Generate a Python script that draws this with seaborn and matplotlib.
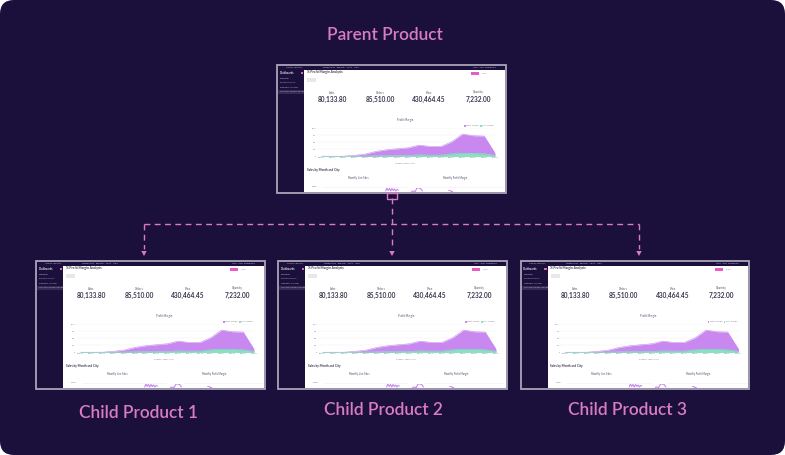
import pandas as pd
import matplotlib
matplotlib.use("Agg")
import matplotlib.pyplot as plt
from matplotlib.patches import Rectangle, FancyBboxPatch, Polygon
import seaborn as sns

sns.set_theme(style="white")
plt.rcParams['font.family'] = ['Lato', 'DejaVu Sans']

# ===== data =====
months = list(range(17))
profit_total = [10, 10, 10, 40, 85, 180, 240, 275, 310, 405, 357, 357, 523, 797, 738, 726, 119]
profit_part = [5, 5, 5, 10, 15, 25, 30, 30, 35, 60, 50, 50, 95, 115, 105, 95, 40]
y_ticks = [0, 250, 500, 750, 1000]

spark_a = [3, 9, 4, 8, 3, 8, 4, 7, 3, 6, 5]
spark_b = [2, 3, 2, 9, 9, 8, 3]
spark_c = [8, 7, 4, 3]

kpi_labels = ["Sales", "Orders", "Price", "Quantity"]
kpi_values = ["80,133.80", "85,510.00", "430,464.45", "7,232.00"]
nav_items = ["Overview", "Profit Summary", "Category Analysis", "% Profit Margin Analysis"]

BG = "#1b0f3b"
PINK = "#d97cc6"
PURPLE = "#c888f0"
GREEN = "#84e3c0"
INK = "#3b3650"
W, H = 785, 455
PW, PH = 228.5, 128.5

fig = plt.figure(figsize=(W / 100, H / 100), dpi=100, facecolor="white")
main = fig.add_axes([0, 0, 1, 1])
main.set_xlim(0, W)
main.set_ylim(H, 0)
main.axis("off")
main.add_patch(FancyBboxPatch((0, 0), W, H, boxstyle="round,pad=0,rounding_size=14",
                              linewidth=0, facecolor=BG))


def inset(x0, y0, x1, y1):
    ax = fig.add_axes([x0 / W, 1 - y1 / H, (x1 - x0) / W, (y1 - y0) / H], zorder=2)
    ax.patch.set_alpha(0)
    return ax


def spark(px, py, x0, y0, x1, y1, values):
    ax = inset(px + x0, py + y0, px + x1, py + y1)
    df = pd.DataFrame({"i": range(len(values)), "v": values})
    sns.lineplot(data=df, x="i", y="v", ax=ax, color=PURPLE, linewidth=0.8)
    ax.set_ylim(0, 10)
    ax.axis("off")


def dashboard(px, py):
    def t(x, y, s, size, color=INK, **kw):
        kw.setdefault("va", "center")
        main.text(px + x, py + y, s, fontsize=size, color=color, **kw)

    # frame, top bar, sidebar, content
    main.add_patch(Rectangle((px, py), PW, PH, facecolor=BG, edgecolor="#aaa5ba", linewidth=1.3))
    main.add_patch(Rectangle((px + 27, py + 5), PW - 28, PH - 6, facecolor="white", linewidth=0))
    main.add_patch(Rectangle((px + 1, py + 25), 26, 4, facecolor="#352a52", linewidth=0))
    main.add_patch(Rectangle((px + 30, py + 13), 9, 4, facecolor="#e9e7ec", linewidth=0))
    main.add_patch(Rectangle((px + 194, py + 7), 8, 3, facecolor="#ea5cc4", linewidth=0))
    main.add_patch(Rectangle((px + 23.5, py + 7), 2.5, 2.5, facecolor="#ea5cc4", linewidth=0))

    t(8, 3, "Thomas Analytics", 1.6, "#c9c5d6")
    t(46, 3, "Dashboards   Reports   Alerts   Help", 1.6, "#c9c5d6")
    t(196, 3, "Help   User Dashboard", 1.6, "#c9c5d6")
    t(2.5, 8, "Dashboards", 2.0, "#e6e3ee", fontweight="bold")
    for i, item in enumerate(nav_items):
        t(3, 14 + 4.3 * i, item, 1.6, "#c9c5d6")
    t(30, 8, "% Profit Margin Analysis", 2.3, INK, fontweight="bold")
    t(205, 8.5, "Share", 1.6, "#8f8b9e")

    for x, label, value in zip([55, 103, 152, 201], kpi_labels, kpi_values):
        t(x, 28, label, 2.0, "#55506a", ha="center")
        t(x, 35, value, 4.7, INK, ha="center", fontweight="bold")

    t(128, 55, "Profit Margin", 2.0, "#55506a", ha="center")
    main.add_patch(Rectangle((px + 187, py + 60.5), 1.5, 1.5, facecolor=PURPLE, linewidth=0))
    t(189, 61, "Profit Margin", 1.5, "#77738a")
    main.add_patch(Rectangle((px + 203, py + 60.5), 1.5, 1.5, facecolor=GREEN, linewidth=0))
    t(205, 61, "Cost Margin", 1.5, "#77738a")
    t(128, 99, "Calendar Year Month", 1.5, "#77738a", ha="center")
    t(30, 105, "Sales by Month and City", 2.2, INK, fontweight="bold")
    t(81, 113, "Monthly Line Sales", 1.8, "#55506a", ha="center")
    t(178, 113, "Monthly Profit Margin", 1.8, "#55506a", ha="center")
    t(35, 122, "1,000", 1.5, "#77738a")
    main.plot([px + 46, px + 130], [py + 122, py + 122], color="#eeeef2", lw=0.4)
    main.plot([px + 147, px + 226], [py + 122, py + 122], color="#eeeef2", lw=0.4)

    # area chart
    ax = inset(px + 39.7, py + 63, px + 218, py + 92)
    df = pd.DataFrame({"month": months, "total": profit_total, "part": profit_part})
    ax.fill_between(df["month"], df["total"], color=PURPLE, linewidth=0)
    ax.fill_between(df["month"], df["part"], color=GREEN, linewidth=0)
    sns.lineplot(data=df, x="month", y="total", ax=ax, color=PURPLE, linewidth=0.4)
    sns.lineplot(data=df, x="month", y="part", ax=ax, color=GREEN, linewidth=0.5)
    ax.set_xlim(-0.46, 16)
    ax.set_ylim(0, 1030)
    ax.set_yticks(y_ticks)
    ax.set_yticklabels([f"{v:,}" for v in y_ticks])
    ax.set_xticks(months)
    ax.set_xticklabels([f"2023-{(m % 12) + 1:02d}" for m in months])
    ax.tick_params(axis="both", labelsize=1.3, labelcolor="#77738a", length=0, pad=0.5)
    ax.set_xlabel("")
    ax.set_ylabel("")
    ax.grid(axis="y", color="#eeeef2", linewidth=0.3)
    ax.set_axisbelow(True)
    sns.despine(ax=ax, left=True, bottom=True)

    # sparks cut off by the bottom of the screenshot
    spark(px, py, 108, 123, 122, 128, spark_a)
    spark(px, py, 134, 123, 146, 128, spark_b)
    spark(px, py, 171, 125, 176, 128, spark_c)


parent = (277, 64.5)
children = [(36, 260.5), (278, 260.5), (520.5, 260.5)]
for px, py in [parent] + children:
    dashboard(px, py)

# connectors
dash = dict(color=PINK, linewidth=1.0, dashes=(4.2, 3.2), zorder=1)
main.plot([392, 392], [198, 249], **dash)
main.plot([144, 639], [223.5, 223.5], **dash)
main.plot([144, 144], [223.5, 249], **dash)
main.plot([639, 639], [223.5, 249], **dash)
main.add_patch(Rectangle((387, 193), 10, 5.5, facecolor="none", edgecolor=PINK, linewidth=1.0, zorder=3))
for x in [144, 392, 639]:
    main.add_patch(Polygon([(x - 2.7, 251), (x + 2.7, 251), (x, 256)], facecolor=PINK, linewidth=0))

# captions
label_font = dict(color=PINK, fontsize=12.4, ha="center", va="center", fontweight="semibold")
main.text(385, 35, "Parent Product", **label_font)
main.text(138, 413, "Child Product 1", **label_font)
main.text(383, 410, "Child Product 2", **label_font)
main.text(627, 410, "Child Product 3", **label_font)

plt.savefig("out.png", dpi=100, facecolor="white")
plt.close()
